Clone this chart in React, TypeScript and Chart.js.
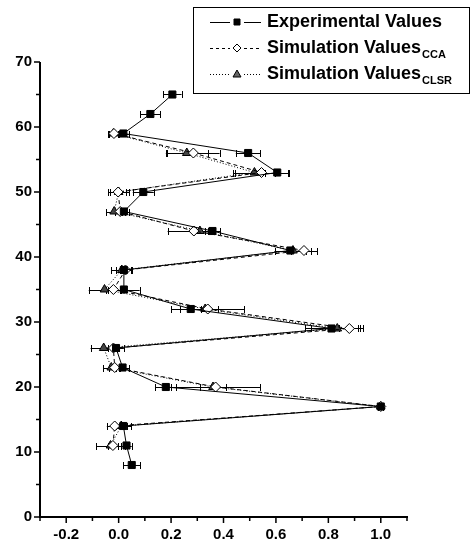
import React, { useEffect, useRef } from 'react';
import { Chart, registerables } from 'chart.js';

Chart.register(...registerables);

// ---- data ----
const expY = [8, 11, 14, 17, 20, 23, 26, 29, 32, 35, 38, 41, 44, 47, 50, 53, 56, 59, 62, 65];
const expX = [0.05, 0.03, 0.018, 1.0, 0.18, 0.015, -0.01, 0.812, 0.275, 0.02, 0.02, 0.655, 0.358, 0.02, 0.094, 0.605, 0.494, 0.018, 0.121, 0.205];
const expErr = [0.033, 0.02, 0.03, 0.01, 0.04, 0.025, 0.03, 0.1, 0.04, 0.06, 0.03, 0.06, 0.03, 0.02, 0.04, 0.045, 0.047, 0.02, 0.038, 0.035];

const simY = [11, 14, 17, 20, 23, 26, 29, 32, 35, 38, 41, 44, 47, 50, 53, 56, 59];
const ccaX = [-0.022, -0.015, 1.0, 0.37, -0.015, -0.02, 0.88, 0.34, -0.02, 0.026, 0.707, 0.287, 0.006, -0.002, 0.545, 0.285, -0.018];
const ccaErr = [0.02, 0.03, 0.01, 0.17, 0.02, 0.02, 0.04, 0.14, 0.03, 0.02, 0.05, 0.1, 0.02, 0.03, 0.1, 0.1, 0.02];
const clsrX = [-0.031, 0.01, 1.0, 0.36, -0.028, -0.057, 0.834, 0.33, -0.054, 0.012, 0.665, 0.31, -0.017, 0.0, 0.518, 0.26, -0.02];
const clsrErr = [0.055, 0.02, 0.01, 0.05, 0.03, 0.05, 0.1, 0.05, 0.06, 0.04, 0.07, 0.03, 0.03, 0.04, 0.08, 0.08, 0.02];

const xMajorTicks = [-0.2, 0.0, 0.2, 0.4, 0.6, 0.8, 1.0];
const xMinorTicks = [-0.3, -0.1, 0.1, 0.3, 0.5, 0.7, 0.9, 1.1];
const yMajorTicks = [0, 10, 20, 30, 40, 50, 60, 70];
const yMinorTicks = [5, 15, 25, 35, 45, 55, 65];

const legendLabels = [
  { main: 'Experimental Values', sub: '' },
  { main: 'Simulation Values', sub: 'CCA' },
  { main: 'Simulation Values', sub: 'CLSR' },
];

const FONT = '"Liberation Sans", Arial, sans-serif';

const errorBarPlugin = {
  id: 'errorBars',
  beforeDatasetsDraw(chart: any) {
    const ctx = chart.ctx;
    const xs = chart.scales.x;
    const ys = chart.scales.y;
    ctx.save();
    ctx.strokeStyle = '#000';
    ctx.lineWidth = 1;
    ctx.setLineDash([]);
    chart.data.datasets.forEach((ds: any) => {
      const errs = ds.errX || [];
      ds.data.forEach((p: any, j: number) => {
        const e = errs[j] || 0;
        const x1 = xs.getPixelForValue(p.x - e);
        const x2 = xs.getPixelForValue(p.x + e);
        const y = Math.round(ys.getPixelForValue(p.y)) + 0.5;
        ctx.beginPath();
        ctx.moveTo(x1, y);
        ctx.lineTo(x2, y);
        ctx.moveTo(Math.round(x1) + 0.5, y - 3.5);
        ctx.lineTo(Math.round(x1) + 0.5, y + 3.5);
        ctx.moveTo(Math.round(x2) + 0.5, y - 3.5);
        ctx.lineTo(Math.round(x2) + 0.5, y + 3.5);
        ctx.stroke();
      });
    });
    ctx.restore();
  },
};

const axisTickPlugin = {
  id: 'axisTicks',
  afterDraw(chart: any) {
    const ctx = chart.ctx;
    const xs = chart.scales.x;
    const ys = chart.scales.y;
    const { left, bottom } = chart.chartArea;
    ctx.save();
    ctx.strokeStyle = '#000';
    ctx.lineWidth = 2;
    ctx.setLineDash([]);
    ctx.beginPath();
    ctx.moveTo(left, ys.getPixelForValue(70));
    ctx.lineTo(left, bottom);
    ctx.lineTo(xs.getPixelForValue(1.1) + 1, bottom);
    ctx.stroke();
    ctx.lineWidth = 1.5;
    ctx.beginPath();
    xMajorTicks.forEach((v) => {
      const px = xs.getPixelForValue(v);
      ctx.moveTo(px, bottom);
      ctx.lineTo(px, bottom + 6);
    });
    xMinorTicks.forEach((v) => {
      const px = xs.getPixelForValue(v);
      ctx.moveTo(px, bottom);
      ctx.lineTo(px, bottom + 4);
    });
    yMajorTicks.forEach((v) => {
      const py = ys.getPixelForValue(v);
      ctx.moveTo(left, py);
      ctx.lineTo(left - 6, py);
    });
    yMinorTicks.forEach((v) => {
      const py = ys.getPixelForValue(v);
      ctx.moveTo(left, py);
      ctx.lineTo(left - 4, py);
    });
    ctx.stroke();
    ctx.restore();
  },
};

function drawMarker(ctx: CanvasRenderingContext2D, kind: string, x: number, y: number) {
  ctx.save();
  ctx.setLineDash([]);
  ctx.lineWidth = 1;
  ctx.strokeStyle = '#000';
  ctx.beginPath();
  if (kind === 'rect') {
    ctx.fillStyle = '#000';
    ctx.rect(x - 3, y - 3, 6, 6);
  } else if (kind === 'diamond') {
    ctx.fillStyle = '#fff';
    ctx.moveTo(x, y - 4);
    ctx.lineTo(x + 4, y);
    ctx.lineTo(x, y + 4);
    ctx.lineTo(x - 4, y);
    ctx.closePath();
  } else {
    ctx.fillStyle = '#666';
    ctx.moveTo(x, y - 4);
    ctx.lineTo(x + 4, y + 3);
    ctx.lineTo(x - 4, y + 3);
    ctx.closePath();
  }
  ctx.fill();
  ctx.stroke();
  ctx.restore();
}

const legendPlugin = {
  id: 'customLegend',
  afterDraw(chart: any) {
    const ctx = chart.ctx;
    ctx.save();
    ctx.strokeStyle = '#000';
    ctx.lineWidth = 1;
    ctx.setLineDash([]);
    ctx.strokeRect(193.5, 7.5, 276, 86);
    const rows = [22, 48, 74];
    const dashes = [[], [3, 3], [1, 2]];
    const markers = ['rect', 'diamond', 'triangle'];
    rows.forEach((ry, i) => {
      ctx.save();
      ctx.strokeStyle = '#000';
      ctx.lineWidth = 1;
      ctx.setLineDash(dashes[i]);
      ctx.beginPath();
      ctx.moveTo(210, ry + 0.5);
      ctx.lineTo(230, ry + 0.5);
      ctx.moveTo(244, ry + 0.5);
      ctx.lineTo(261, ry + 0.5);
      ctx.stroke();
      ctx.restore();
      drawMarker(ctx, markers[i], 237, ry);
      const lab = legendLabels[i];
      ctx.fillStyle = '#000';
      ctx.textBaseline = 'middle';
      ctx.textAlign = 'left';
      ctx.font = 'bold 18px ' + FONT;
      ctx.fillText(lab.main, 267, ry);
      if (lab.sub) {
        const w = ctx.measureText(lab.main).width;
        ctx.font = 'bold 11px ' + FONT;
        ctx.fillText(lab.sub, 267 + w + 1, ry + 7);
      }
    });
    ctx.restore();
  },
};

export default function App() {
  const canvasRef = useRef<HTMLCanvasElement>(null);

  useEffect(() => {
    document.body.style.margin = '0';
    const canvas = canvasRef.current;
    if (!canvas) return;
    const toPts = (xs: number[], ys: number[]) => xs.map((x, i) => ({ x, y: ys[i] }));
    const chart = new Chart(canvas, {
      type: 'scatter',
      data: {
        datasets: [
          {
            label: 'Experimental Values',
            data: toPts(expX, expY),
            errX: expErr,
            showLine: true,
            borderColor: '#000',
            borderWidth: 1,
            pointStyle: 'rect',
            pointRadius: 5,
            pointBackgroundColor: '#000',
            pointBorderColor: '#000',
            pointBorderWidth: 1,
          } as any,
          {
            label: 'Simulation Values CCA',
            data: toPts(ccaX, simY),
            errX: ccaErr,
            showLine: true,
            borderColor: '#000',
            borderWidth: 1,
            borderDash: [4, 3],
            pointStyle: 'rectRot',
            pointRadius: 5,
            pointBackgroundColor: '#fff',
            pointBorderColor: '#000',
            pointBorderWidth: 1,
          } as any,
          {
            label: 'Simulation Values CLSR',
            data: toPts(clsrX, simY),
            errX: clsrErr,
            showLine: true,
            borderColor: '#000',
            borderWidth: 1,
            borderDash: [1, 2],
            pointStyle: 'triangle',
            pointRadius: 5,
            pointBackgroundColor: '#444',
            pointBorderColor: '#000',
            pointBorderWidth: 1,
          } as any,
        ],
      },
      options: {
        animation: false,
        responsive: true,
        maintainAspectRatio: false,
        layout: { padding: { left: 0, top: 62, right: 64, bottom: 0 } },
        plugins: { legend: { display: false }, tooltip: { enabled: false } },
        scales: {
          x: {
            type: 'linear',
            min: -0.3,
            max: 1.1,
            grid: { display: false, drawTicks: false },
            border: { display: false },
            afterBuildTicks: (s: any) => {
              s.ticks = xMajorTicks.map((v) => ({ value: v }));
            },
            afterFit: (s: any) => {
              s.height = 28;
            },
            ticks: {
              autoSkip: false,
              maxRotation: 0,
              padding: 9,
              color: '#000',
              font: { family: FONT, size: 15, weight: 'bold' },
              callback: (v: any) => Number(v).toFixed(1),
            },
          },
          y: {
            type: 'linear',
            min: 0,
            max: 70,
            grid: { display: false, drawTicks: false },
            border: { display: false },
            afterBuildTicks: (s: any) => {
              s.ticks = yMajorTicks.map((v) => ({ value: v }));
            },
            afterFit: (s: any) => {
              s.width = 40;
            },
            ticks: {
              autoSkip: false,
              padding: 8,
              color: '#000',
              font: { family: FONT, size: 15, weight: 'bold' },
              callback: (v: any) => String(v),
            },
          },
        },
      },
      plugins: [errorBarPlugin, axisTickPlugin, legendPlugin],
    } as any);
    return () => chart.destroy();
  }, []);

  return (
    <div style={{ position: 'relative', width: 471, height: 545 }}>
      <canvas ref={canvasRef} />
    </div>
  );
}
